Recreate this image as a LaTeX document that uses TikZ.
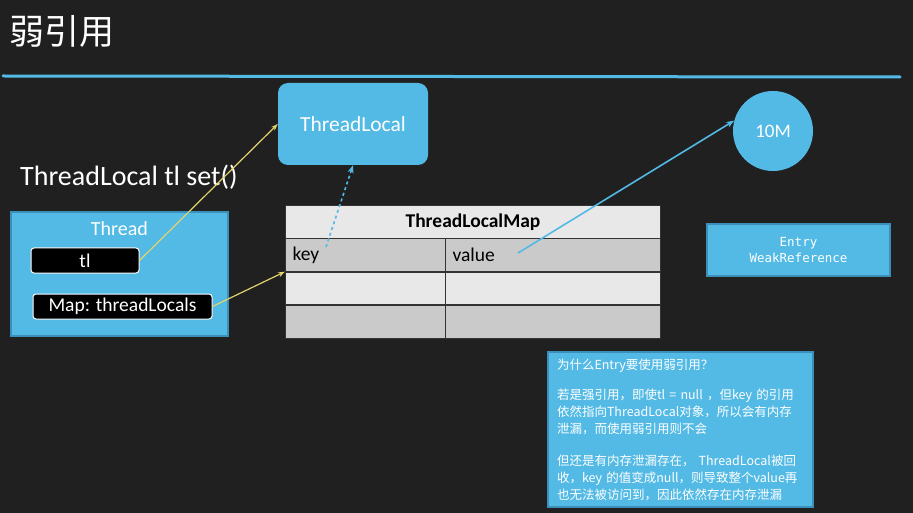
\documentclass[tikz,border=0pt]{standalone}
\usepackage{fontspec}
\setmainfont{Carlito}
\newfontfamily\cjk{Noto Sans CJK SC}
\newfontfamily\codefont{DejaVu Sans Mono}
\usetikzlibrary{arrows.meta, positioning}

\definecolor{board}{HTML}{202020}
\definecolor{skyblue}{HTML}{52BAE5}
\definecolor{skyedge}{HTML}{3C8FB8}
\definecolor{lightrow}{HTML}{E8E8E8}
\definecolor{darkrow}{HTML}{CACACA}
\definecolor{penyellow}{HTML}{E3D36C}

\begin{document}
\begin{tikzpicture}[
        x=1pt, y=-1pt,
        bluebox/.style={rectangle, fill=skyblue, draw=skyedge, line width=1.5pt, text=white},
        pill/.style={rectangle, rounded corners=3pt, fill=black, draw=white, line width=1pt, text=white, minimum height=25pt, inner sep=0pt, font=\fontsize{19.5}{22}\selectfont},
        cell/.style={rectangle, draw=black!80, line width=1pt, minimum height=32.7pt, inner xsep=7pt, inner ysep=0pt, anchor=north west, text=black, align=left, font=\fontsize{19.5}{22}\selectfont},
        weak/.style={-{Stealth[length=7pt,width=5pt]}, penyellow, line width=1.2pt},
        strong/.style={-{Stealth[length=8pt,width=6pt]}, skyblue, line width=1.6pt},
        >=Stealth
    ]

    % board and title
    \fill[board] (0,0) rectangle (913,513);
    \useasboundingbox (0,0) rectangle (913,513);
    \node[anchor=west, text=white, font=\cjk\fontsize{35}{40}\selectfont, inner sep=0pt] (title) at (9,31) {弱引用};
    \draw[skyblue, line width=3pt, line cap=round] (3,76) -- (900,77);

    % ThreadLocal object and the value
    \node[rectangle, rounded corners=10pt, fill=skyblue, text=white, minimum width=150pt, minimum height=82pt, font=\fontsize{21.5}{24}\selectfont] (tlocal) at (353,124) {ThreadLocal};
    \node[circle, fill=skyblue, text=white, minimum size=80pt, inner sep=0pt, font=\fontsize{19}{22}\selectfont] (tenm) at (773,131) {10M};

    % code line
    \node[anchor=west, text=white, inner sep=0pt, font=\fontsize{28}{32}\selectfont] (code) at (20,177) {ThreadLocal tl set()};

    % Thread with its fields
    \node[bluebox, minimum width=217pt, minimum height=124pt] (thread) at (119.5,274) {};
    \node[below=10pt of thread.north, text=white, inner sep=0pt, font=\fontsize{20}{22}\selectfont] (threadname) {Thread};
    \node[pill, minimum width=108pt] (tl) at (85,260.5) {tl};
    \node[pill, minimum width=179pt] (map) at (122.5,306.5) {Map: threadLocals};

    % ThreadLocalMap table
    \node[cell, fill=lightrow, minimum width=375pt, align=center, font=\bfseries\fontsize{19.5}{22}\selectfont] (hdr) at (285,205) {ThreadLocalMap};
    \node[cell, fill=darkrow, text width=146pt] (key) at (285,238) {key};
    \node[cell, fill=darkrow, text width=201pt] (value) at (445,238) {value};
    \node[cell, fill=lightrow, text width=146pt, below=0pt of key] (key2) {};
    \node[cell, fill=lightrow, text width=201pt, below=0pt of value] (value2) {};
    \node[cell, fill=darkrow, text width=146pt, below=0pt of key2] (key3) {};
    \node[cell, fill=darkrow, text width=201pt, below=0pt of value2] (value3) {};

    % Entry box
    \node[bluebox, minimum width=183pt, minimum height=52pt, align=center, font=\codefont\fontsize{12.5}{16}\selectfont] (entry) at (798.5,250) {Entry\\WeakReference};

    % note
    \node[bluebox, minimum width=265pt, minimum height=155pt, text width=247pt, inner xsep=9pt, align=left, font=\cjk\fontsize{12.5}{17}\selectfont] (note) at (680.5,429.5) {为什么Entry要使用弱引用？\\[13pt]
        若是强引用，即使tl = null ，但key 的引用\\
        依然指向ThreadLocal对象，所以会有内存\\
        泄漏，而使用弱引用则不会\\[15pt]
        但还是有内存泄漏存在， ThreadLocal被回\\
        收，key 的值变成null，则导致整个value再\\
        也无法被访问到，因此依然存在内存泄漏};

    % references
    \coordinate (keyend) at (326,247);
    \coordinate (valueend) at (518,253);
    \draw[weak] (tl.east) -- (tlocal.west);
    \draw[weak] (map.east) -- (key.south west);
    \draw[strong, dashed] (keyend) -- (tlocal.south);
    \draw[strong] (valueend) -- (tenm.165);

\end{tikzpicture}
\end{document}
